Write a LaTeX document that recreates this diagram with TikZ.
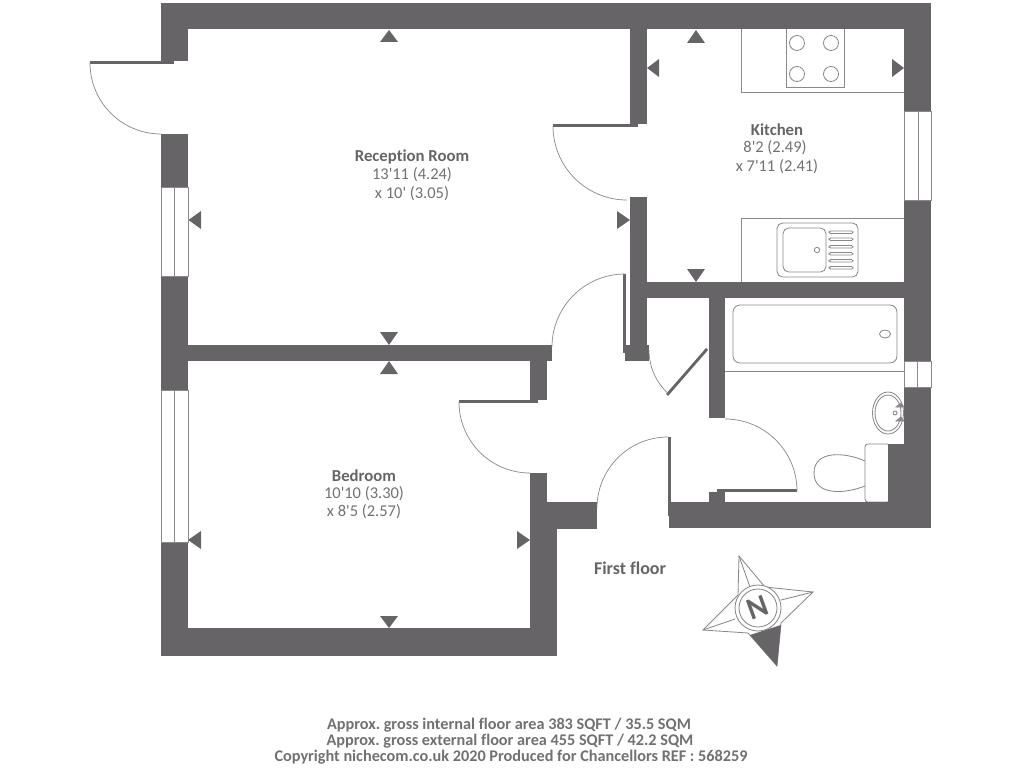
\documentclass[tikz,border=0pt]{standalone}
\usepackage{fontspec}
\setmainfont{Carlito}[Ligatures=NoCommon]
\frenchspacing
\definecolor{wallgrey}{HTML}{676467}
\definecolor{textgrey}{HTML}{737073}
\definecolor{linegrey}{HTML}{8A888A}
\begin{document}
\begin{tikzpicture}[
        x=0.025cm, y=-0.025cm,
        wall/.style={fill=wallgrey},
        leaf/.style={fill=wallgrey},
        outline/.style={draw=linegrey, line width=0.6pt},
        swing/.style={draw=linegrey, line width=0.5pt},
        marker/.style={fill=wallgrey},
        roomname/.style={font=\fontsize{11.9}{13}\selectfont\bfseries, text=wallgrey, inner sep=0pt},
        roomsize/.style={font=\fontsize{11.7}{13}\selectfont, text=textgrey, inner sep=0pt},
        footnote/.style={font=\fontsize{11.55}{13}\selectfont\bfseries, text=textgrey, inner sep=0pt}
    ]

        \useasboundingbox (0,0) rectangle (1024,768);

        % kitchen fittings
        \draw[outline] (741,29) -- (741,92) -- (904,92);
        \draw[outline] (786,29) -- (786,87) -- (844,87) -- (844,29);
        \draw[outline] (797,43) circle [radius=7.5];
        \draw[outline] (831,43) circle [radius=7.5];
        \draw[outline] (797,74) circle [radius=7.5];
        \draw[outline] (831,74) circle [radius=7.5];
        \draw[outline] (741,282) -- (741,218) -- (904,218);
        \draw[outline, rounded corners=4pt] (777,223) rectangle (858,277);
        \draw[outline, rounded corners=4pt] (783,228) rectangle (826,272);
        \draw[outline] (817,250) circle [radius=2.7];
        \draw[outline, rounded corners=1pt] (829,231) rectangle (853,233.5);
        \draw[outline, rounded corners=1pt] (829,238) rectangle (853,240.5);
        \draw[outline, rounded corners=1pt] (829,245.5) rectangle (853,248);
        \draw[outline, rounded corners=1pt] (829,252.5) rectangle (853,255);
        \draw[outline, rounded corners=1pt] (829,259.5) rectangle (853,262);
        \draw[outline, rounded corners=1pt] (829,266.5) rectangle (853,269);

        % bathroom fittings
        \draw[outline] (725,371) -- (904,371);
        \draw[outline, rounded corners=5pt] (733,305) rectangle (897,363);
        \draw[outline] (885,334) ellipse [x radius=5.5, y radius=4];
        \draw[outline] (888,413) ellipse [x radius=15.5, y radius=21];
        \draw[outline] (888,413) ellipse [x radius=13, y radius=18];
        \draw[outline] (895,413) circle [radius=2];
        \draw[outline, fill=linegrey] (896,407) -- (901,403) -- (904,407) -- cycle;
        \draw[outline, fill=linegrey] (896,421) -- (901,417) -- (904,421) -- cycle;
        \draw[outline, rounded corners=2pt] (865,502) -- (865,444) -- (890,444) -- (890,502) -- cycle;
        \draw[outline] (865,461) .. controls (845,452) and (814,450) .. (814,473) .. controls (814,496) and (845,494) .. (865,486);

        % walls
        \fill[wall] (161,3) rectangle (931,29);
        \fill[wall] (161,29) rectangle (188,61);
        \fill[wall] (161,134) rectangle (188,187);
        \fill[wall] (161,276) rectangle (188,390);
        \fill[wall] (161,542) rectangle (188,656);
        \fill[wall] (161,628) rectangle (557,656);
        \fill[wall] (188,345) rectangle (552,361);
        \fill[wall] (530,361) rectangle (547,400);
        \fill[wall] (530,473) rectangle (547,529);
        \fill[wall] (547,502) rectangle (597,529);
        \fill[wall] (530,529) rectangle (557,628);
        \fill[wall] (630,29) rectangle (647,124);
        \fill[wall] (630,197) rectangle (647,345);
        \fill[wall] (625,345) rectangle (649,361);
        \fill[wall] (630,282) rectangle (904,298);
        \fill[wall] (904,29) rectangle (931,111);
        \fill[wall] (904,200) rectangle (931,361);
        \fill[wall] (904,387) rectangle (931,528);
        \fill[wall] (888,444) rectangle (904,502);
        \fill[wall] (669,502) rectangle (931,528);
        \fill[wall] (709,298) rectangle (725,418);
        \fill[wall] (709,492) rectangle (725,502);

        % windows
        \draw[outline] (161,187) rectangle (188,276);
        \draw[outline] (174.5,187) -- (174.5,276);
        \draw[outline] (161,390) rectangle (188,542);
        \draw[outline] (174.5,390) -- (174.5,542);
        \draw[outline] (904,111) rectangle (931,200);
        \draw[outline] (918,111) -- (918,200);
        \draw[outline] (904,361) rectangle (931,387);
        \draw[outline] (917.5,361) -- (917.5,387);

        % doors
        \fill[leaf] (90,61) rectangle (174,64);
        \draw[swing] (90,63) arc [start angle=180, end angle=90, radius=71];
        \fill[leaf] (553,124) rectangle (638,127);
        \draw[swing] (553,126) arc [start angle=180, end angle=90, radius=74];
        \fill[leaf] (623,274) rectangle (625.5,353);
        \draw[swing] (625,274) arc [start angle=270, end angle=180, radius=73];
        \fill[leaf] (459,400) rectangle (538,403);
        \draw[swing] (459,402) arc [start angle=180, end angle=90, radius=71];
        \fill[leaf] (668,437) rectangle (670.5,516);
        \draw[swing] (668,437) arc [start angle=270, end angle=180, radius=71];
        \fill[leaf] (666,394) -- (706,348) -- (708,350) -- (668,396) -- cycle;
        \draw[swing] (649,350) arc [start angle=180, end angle=132, radius=59];
        \fill[leaf] (717,489) rectangle (797,492);
        \draw[swing] (725,419) arc [start angle=270, end angle=360, radius=72];

        % dimension markers
        \fill[marker] (389,30) -- (380,42) -- (398,42) -- cycle;
        \fill[marker] (188.5,220) -- (201,211) -- (201,229) -- cycle;
        \fill[marker] (630,220) -- (617,211) -- (617,229) -- cycle;
        \fill[marker] (389,345) -- (380,332) -- (398,332) -- cycle;
        \fill[marker] (696,30) -- (687,43) -- (705,43) -- cycle;
        \fill[marker] (647,68) -- (659,59) -- (659,77) -- cycle;
        \fill[marker] (904,68) -- (892,59) -- (892,77) -- cycle;
        \fill[marker] (696,282) -- (687,269) -- (705,269) -- cycle;
        \fill[marker] (389,361) -- (380,374) -- (398,374) -- cycle;
        \fill[marker] (188,540) -- (201,531) -- (201,549) -- cycle;
        \fill[marker] (530,540) -- (517,531) -- (517,549) -- cycle;
        \fill[marker] (389,628) -- (380,616) -- (398,616) -- cycle;

        % room labels
        \node[roomname] (reception) at (412,157) {Reception Room};
        \node[roomsize] (reception_a) at (412,175) {13\textquotesingle11 (4.24)};
        \node[roomsize] (reception_b) at (412,194) {x 10\textquotesingle\ (3.05)};
        \node[roomname] (kitchen) at (777,130) {Kitchen};
        \node[roomsize] (kitchen_a) at (775,148) {8\textquotesingle2 (2.49)};
        \node[roomsize] (kitchen_b) at (777,167) {x 7\textquotesingle11 (2.41)};
        \node[roomname] (bedroom) at (364,476) {Bedroom};
        \node[roomsize] (bedroom_a) at (364,494) {10\textquotesingle10 (3.30)};
        \node[roomsize] (bedroom_b) at (364,512) {x 8\textquotesingle5 (2.57)};
        \node[roomname, font=\fontsize{12.8}{14}\selectfont\bfseries] (floor) at (630,568) {First floor};

        % compass
        \draw[outline] (739,556) -- (738,595) -- (703,630) -- (748,633) -- (777,666) -- (781,623) -- (813,592) -- (765,587) -- cycle;
        \draw[outline] (739,556) -- (750,587);
        \draw[outline] (813,592) -- (781,600);
        \draw[outline] (703,630) -- (735,619);
        \fill[marker] (750,635) -- (777,666) -- (781,625) -- cycle;
        \draw[outline, fill=white] (758,608) circle [radius=23];
        \draw[outline, fill=white] (758,608) circle [radius=19];
        \node[font=\fontsize{22}{24}\selectfont\bfseries, text=wallgrey, rotate=20, inner sep=0pt] (north) at (758,608) {N};

        % footer
        \node[footnote] (internal) at (509,725) {Approx. gross internal floor area 383 SQFT / 35.5 SQM};
        \node[footnote] (external) at (510,741) {Approx. gross external floor area 455 SQFT / 42.2 SQM};
        \node[footnote] (copyright) at (511,757) {Copyright nichecom.co.uk 2020 Produced for Chancellors REF : 568259};
    \end{tikzpicture}
\end{document}
